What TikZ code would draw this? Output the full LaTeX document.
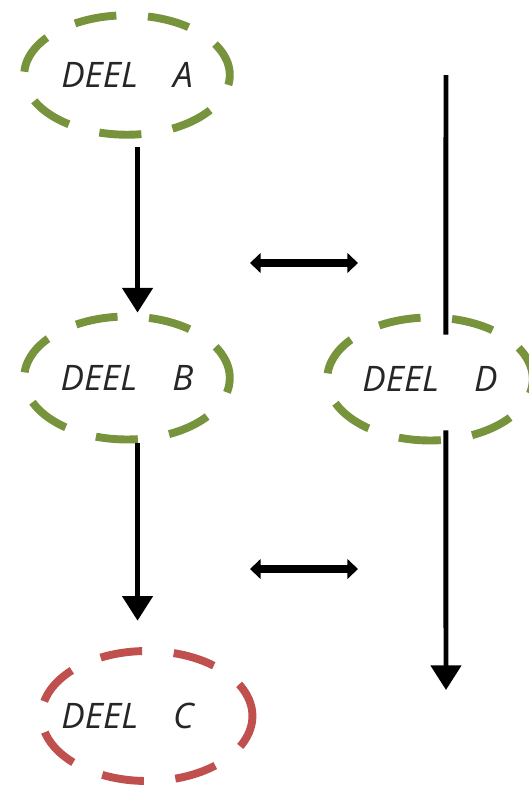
\documentclass[tikz,border=0pt]{standalone}
\usepackage{fontspec}
\setmainfont{Open Sans}
\usetikzlibrary{shapes.geometric,arrows.meta}

\definecolor{deelgreen}{HTML}{77933C}
\definecolor{deelred}{HTML}{C0504D}

\begin{document}
\begin{tikzpicture}[x=0.02cm,y=-0.02cm,
    deel/.style={ellipse, draw=deelgreen, line width=4.5pt, dash pattern=on 24pt off 18pt, dash phase=4pt,
        fill=white, inner sep=0pt, minimum width=117pt, minimum height=68pt,
        text=black!85, font=\itshape\fontsize{20}{24}\selectfont},
    flow/.style={line width=2.8pt, -{Triangle[width=17pt,length=14pt]}},
    swap/.style={line width=4.5pt, {Triangle[width=11pt,length=6pt]}-{Triangle[width=11pt,length=6pt]}}]
    \useasboundingbox (0,0) rectangle (528,788);

    % Draw Parts
    \node[deel] (A) at (127,75) {DEEL\quad A};
    \node[deel, minimum height=70pt] (B) at (127,378) {DEEL\quad B};
    \node[deel, minimum height=70pt] (D) at (430,379) {DEEL\quad D};
    \node[deel, draw=deelred, minimum width=120pt, minimum height=74pt] (C) at (147,716) {\makebox[0pt]{DEEL\quad C\hspace*{22pt}}};

    % Draw Flow Arrows
    \draw[flow, shorten <=5pt] ([xshift=6pt]A.south) -- ([xshift=6pt]B.north);
    \draw[flow, shorten >=15pt] ([xshift=6pt]B.south) -- ([xshift=6pt]B.south |- C.north);

    % Right side line through D
    \coordinate (Dtop) at (446,75);
    \coordinate (Dbot) at (446,690);
    \draw[line width=2.8pt] (Dtop) -- ([xshift=9pt,yshift=-12pt]D.north);
    \draw[flow] ([xshift=9pt,yshift=8pt]D.south) -- (Dbot);

    % Double Arrows
    \coordinate (l1) at (250,263);
    \coordinate (r1) at (358,263);
    \coordinate (l2) at (250,569);
    \coordinate (r2) at (358,569);
    \draw[swap] (l1) -- (r1);
    \draw[swap] (l2) -- (r2);
\end{tikzpicture}
\end{document}
